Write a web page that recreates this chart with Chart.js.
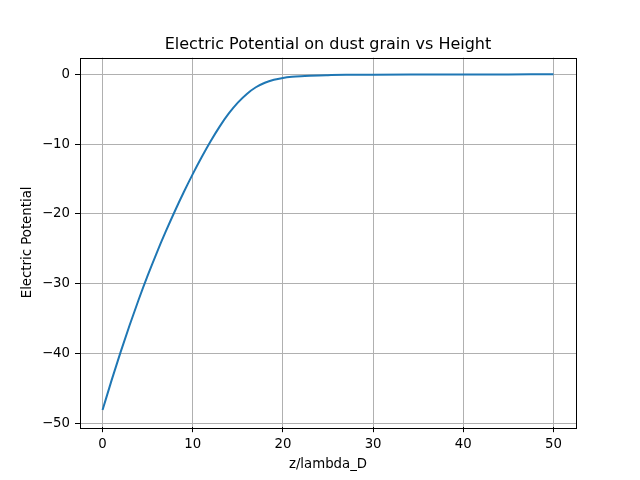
<!DOCTYPE html>
<html>
<head>
<meta charset="utf-8">
<script src="https://cdn.jsdelivr.net/npm/chart.js@4/dist/chart.umd.min.js"></script>
<style>
  body { margin: 0; background: #fff; }
  canvas { display: block; }
</style>
</head>
<body>
<canvas id="myChart" width="640" height="480"></canvas>
<script>
// values
var zValues = [0, 1, 2, 3, 4, 5, 6, 7, 8, 9, 10, 11, 12, 13, 14, 15, 16, 17, 18, 19, 20,
               21, 22, 23, 24, 25, 27, 30, 35, 40, 45, 50];
var potential = [-48.1, -43.85, -39.8, -35.95, -32.3, -28.85, -25.6, -22.55, -19.65, -16.9, -14.3,
                 -11.85, -9.55, -7.45, -5.6, -4.05, -2.8, -1.85, -1.2, -0.78, -0.52,
                 -0.36, -0.26, -0.195, -0.15, -0.12, -0.07, -0.04, -0.02, -0.01, -0.005, 0];
var xTicks = [0, 10, 20, 30, 40, 50];
var yTicks = [-50, -40, -30, -20, -10, 0];

var points = [];
for (var i = 0; i < zValues.length; i++) {
  points.push({ x: zValues[i], y: potential[i] });
}

var font = "'DejaVu Sans', sans-serif";

// all four spines like matplotlib
var frame = {
  id: "frame",
  afterDraw: function (chart) {
    var a = chart.chartArea, ctx = chart.ctx;
    ctx.save();
    ctx.strokeStyle = "#000";
    ctx.lineWidth = 1;
    ctx.strokeRect(Math.round(a.left) + 0.5, Math.round(a.top) + 0.5,
                   Math.round(a.right - a.left), Math.round(a.bottom - a.top));
    ctx.restore();
  }
};

var myChart = document.getElementById("myChart").getContext("2d");
var chart = new Chart(myChart, {
  type: "line",
  data: {
    datasets: [
      {
        data: points,
        borderColor: "#1f77b4",
        borderWidth: 2,
        pointRadius: 0,
        fill: false,
        cubicInterpolationMode: "monotone"
      }
    ]
  },
  options: {
    responsive: false,
    animation: false,
    devicePixelRatio: 1,
    layout: { padding: { left: 16, right: 0, top: 0, bottom: 0 } },
    plugins: {
      legend: { display: false },
      tooltip: { enabled: false },
      title: {
        display: true,
        text: "Electric Potential on dust grain vs Height",
        color: "#000",
        font: { family: font, size: 16, weight: "normal" },
        padding: { top: 35.4, bottom: 3 }
      }
    },
    scales: {
      x: {
        type: "linear",
        min: -2.5,
        max: 52.5,
        afterFit: function (scale) { scale.height = 52.8; },
        afterBuildTicks: function (scale) {
          scale.ticks = xTicks.map(function (v) { return { value: v }; });
        },
        ticks: {
          color: "#000",
          padding: 4,
          maxRotation: 0,
          font: { family: font, size: 13.3 },
          callback: function (v) { return String(v).replace("-", "\u2212"); }
        },
        grid: { color: "#b0b0b0", lineWidth: 1, tickColor: "#000", tickLength: 5 },
        border: { display: false },
        title: {
          display: true,
          text: "z/lambda_D",
          color: "#000",
          font: { family: font, size: 13.3 },
          padding: { top: 0, bottom: 7 }
        }
      },
      y: {
        type: "linear",
        min: -50.56,
        max: 2.4,
        afterFit: function (scale) { scale.width = 64; },
        afterBuildTicks: function (scale) {
          scale.ticks = yTicks.map(function (v) { return { value: v }; });
        },
        ticks: {
          color: "#000",
          padding: 5,
          font: { family: font, size: 13.3 },
          callback: function (v) { return String(v).replace("-", "\u2212"); }
        },
        grid: { color: "#b0b0b0", lineWidth: 1, tickColor: "#000", tickLength: 5 },
        border: { display: false },
        title: {
          display: true,
          text: "Electric Potential",
          color: "#000",
          font: { family: font, size: 13.3 },
          padding: { top: 4, bottom: 0 }
        }
      },
      // empty right-hand margin, keeps the title centred over the axes
      yRight: {
        type: "linear",
        position: "right",
        afterFit: function (scale) { scale.width = 64; },
        ticks: { display: false },
        grid: { display: false },
        border: { display: false }
      }
    }
  },
  plugins: [frame]
});
</script>
</body>
</html>
